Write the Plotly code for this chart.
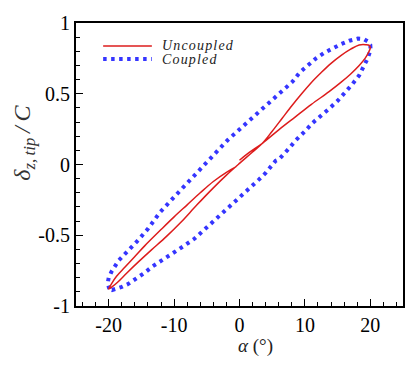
import plotly.graph_objects as go

# uncoupled loop: starts at alpha=0, goes up to +20, down to -20, back to 0
alpha_unc = [0.0, 1.5, 3.5, 6.0, 8.5, 11.0, 13.7, 15.5, 17.0, 18.3, 19.2, 19.7, 20.0,
             19.8, 19.3, 18.3, 17.0, 15.5, 14.0, 12.5, 11.0, 9.5, 8.0, 6.5, 5.0, 3.5,
             2.0, 0.0, -2.0, -4.0, -6.5, -9.0, -11.2, -13.5, -15.5, -17.3, -18.6, -19.5, -20.0,
             -19.6, -18.8, -17.5, -16.0, -14.5, -12.0, -10.0, -8.0, -6.0, -4.0, -2.0, -0.5]
delta_unc = [0.03, 0.085, 0.15, 0.245, 0.335, 0.425, 0.515, 0.58, 0.64, 0.70, 0.75, 0.79, 0.825,
             0.843, 0.847, 0.845, 0.815, 0.77, 0.715, 0.65, 0.58, 0.50, 0.415, 0.325, 0.235, 0.15,
             0.088, 0.008, -0.075, -0.165, -0.285, -0.41, -0.51, -0.605, -0.69, -0.77, -0.83, -0.865, -0.88,
             -0.845, -0.79, -0.725, -0.65, -0.575, -0.46, -0.37, -0.285, -0.20, -0.12, -0.055, -0.015]

# coupled loop
alpha_cpl = [-19.9, -20.15, -20.0, -19.6, -18.5, -17.0, -15.5, -14.0, -12.2, -10.0, -7.5, -5.0,
             -1.8, 1.0, 4.0, 6.5, 8.1, 9.2, 10.5, 11.7, 13.0, 14.2, 15.5, 16.8, 18.1, 19.0, 19.6, 20.0,
             20.05, 19.6, 19.0, 18.3, 17.3, 16.3, 15.0, 13.6, 12.3, 11.2, 10.0, 8.65, 7.5, 6.6, 6.0,
             5.5, 4.84, 4.0, 3.0, 1.0, -1.0, -3.0, -5.0, -6.9, -8.65, -10.3, -11.95, -13.3, -14.5,
             -15.8, -17.05, -18.0, -18.8, -19.5, -19.9]
delta_cpl = [-0.88, -0.84, -0.80, -0.76, -0.68, -0.61, -0.535, -0.455, -0.34, -0.23, -0.105, 0.02,
             0.173, 0.29, 0.415, 0.52, 0.585, 0.65, 0.70, 0.75, 0.79, 0.82, 0.85, 0.875, 0.89, 0.887, 0.87, 0.845,
             0.81, 0.75, 0.69, 0.63, 0.57, 0.515, 0.45, 0.39, 0.34, 0.295, 0.235, 0.173, 0.11, 0.06, 0.035,
             0.025, -0.015, -0.06, -0.105, -0.19, -0.275, -0.36, -0.445, -0.525, -0.58, -0.63, -0.675, -0.72, -0.765,
             -0.81, -0.845, -0.865, -0.88, -0.887, -0.88]

x_ticks = [-20, -10, 0, 10, 20]
x_labels = ["-20", "-10", "0", "10", "20"]
y_ticks = [-1, -0.5, 0, 0.5, 1]
y_labels = ["-1", "-0.5", "0", "0.5", "1"]

RED = "#dd1c1c"
BLUE = "#3535ff"
FONT = "Liberation Serif, Times New Roman, Times, serif"
DOTS = "3.5px,4.5px"

fig = go.Figure()
fig.add_trace(go.Scatter(x=alpha_cpl, y=delta_cpl, mode="lines",
                         line=dict(color=BLUE, width=4, dash=DOTS)))
fig.add_trace(go.Scatter(x=alpha_unc, y=delta_unc, mode="lines",
                         line=dict(color=RED, width=1.5), line_shape="spline"))

axis_common = dict(showgrid=False, zeroline=False, showline=True, linewidth=2,
                   linecolor="black", mirror=True, ticks="inside", ticklen=7,
                   tickwidth=1, tickcolor="black", automargin=False,
                   tickfont=dict(family=FONT, size=20, color="black"))

fig.update_xaxes(range=[-25, 25], tickvals=x_ticks, ticktext=x_labels,
                 minor=dict(dtick=2, ticks="inside", ticklen=4, tickwidth=1,
                            tickcolor="black", showgrid=False),
                 **axis_common)
fig.update_yaxes(range=[-1, 1], tickvals=y_ticks, ticktext=y_labels,
                 minor=dict(dtick=0.1, ticks="inside", ticklen=4, tickwidth=1,
                            tickcolor="black", showgrid=False),
                 **axis_common)

# axis titles
fig.add_annotation(text="<i>α</i> (°)", xref="paper", yref="paper", x=0.55, y=-0.14,
                   showarrow=False, xanchor="center", yanchor="middle",
                   font=dict(family=FONT, size=19, color="#222"))
fig.add_annotation(text="<i>δ<sub>z,\u2009tip</sub>\u2009/\u2009C</i>", xref="paper", yref="paper",
                   x=-0.16, y=0.576, textangle=-90, showarrow=False,
                   xanchor="center", yanchor="middle",
                   font=dict(family=FONT, size=24, color="#333"))

# legend, drawn by hand
fig.add_shape(type="line", xref="paper", yref="paper", x0=0.083, x1=0.232, y0=0.919, y1=0.919,
              line=dict(color=RED, width=1.5))
fig.add_shape(type="line", xref="paper", yref="paper", x0=0.083, x1=0.232, y0=0.873, y1=0.873,
              line=dict(color=BLUE, width=4, dash=DOTS))
fig.add_annotation(text="<i>U\u200an\u200ac\u200ao\u200au\u200ap\u200al\u200ae\u200ad</i>",
                   xref="paper", yref="paper", x=0.258, y=0.922,
                   showarrow=False, xanchor="left", yanchor="middle",
                   font=dict(family=FONT, size=14, color="#222"))
fig.add_annotation(text="<i>C\u200ao\u200au\u200ap\u200al\u200ae\u200ad</i>",
                   xref="paper", yref="paper", x=0.258, y=0.872,
                   showarrow=False, xanchor="left", yanchor="middle",
                   font=dict(family=FONT, size=14, color="#222"))

# the page body has an 8px default margin, so the figure is sized to sit inside it
fig.update_layout(width=400, height=354, margin=dict(l=68, r=5, t=15, b=56),
                  plot_bgcolor="white", paper_bgcolor="white", showlegend=False)

fig.write_html("out.html")
